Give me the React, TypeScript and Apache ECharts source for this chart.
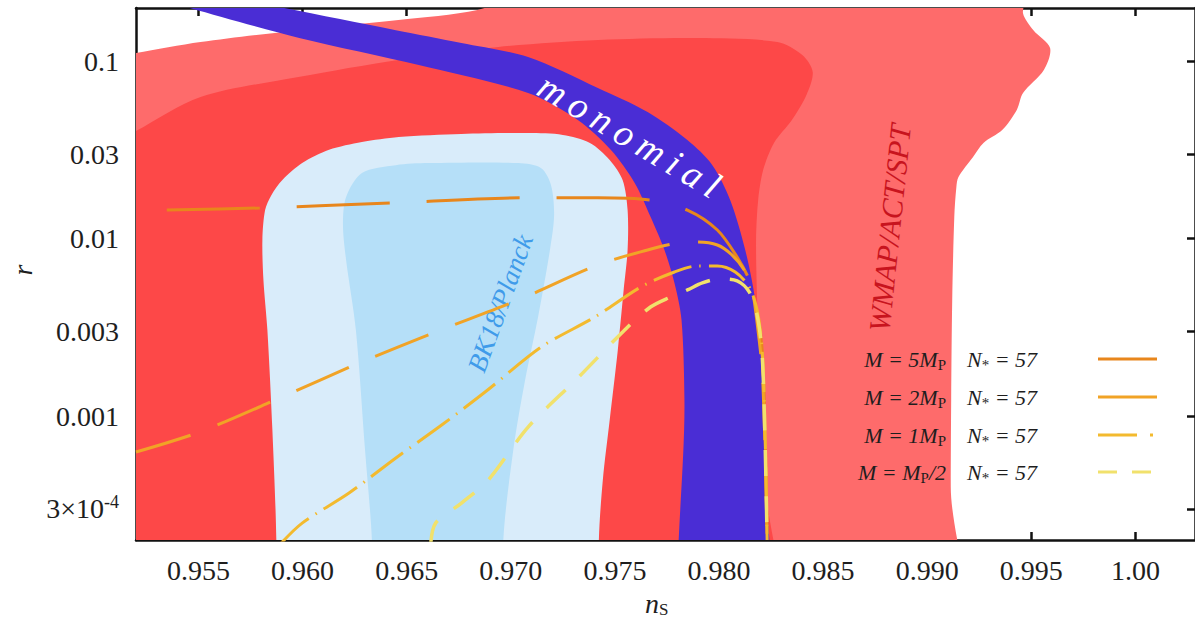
import React, { useEffect, useRef } from "react";
import * as echarts from "echarts";

// ---------- axes ----------
const NS_MIN = 0.952;
const NS_MAX = 1.00286;
const R_MIN = 2e-4;
const R_MAX = 0.2;

const nsTicks = [0.955, 0.96, 0.965, 0.97, 0.975, 0.98, 0.985, 0.99, 0.995, 1.0];
const nsTickLabels = ["0.955", "0.960", "0.965", "0.970", "0.975", "0.980", "0.985", "0.990", "0.995", "1.00"];
const rTicks = [3e-4, 0.001, 0.003, 0.01, 0.03, 0.1];
const rTickLabels = ["3×10{sup|-4}", "0.001", "0.003", "0.01", "0.03", "0.1"];

// ---------- regions: [n_s, r] boundary points ----------
const wmapOuter: [number, number][] = [
  [0.948, 0.09], [0.9503, 0.102], [0.952, 0.1115], [0.9551, 0.1286], [0.9598, 0.15], [0.9646, 0.171],
  [0.9684, 0.195], [0.9713, 0.253], [0.9947, 0.253], [0.9946, 0.187], [0.9951, 0.15],
  [0.9959, 0.119], [0.9956, 0.0894], [0.9946, 0.0663], [0.9943, 0.0532], [0.9936, 0.041],
  [0.9927, 0.0347], [0.9922, 0.0289], [0.9915, 0.0223], [0.9914, 0.0196], [0.9913, 0.0133],
  [0.9912, 0.00451], [0.99115, 0.00123], [0.99113, 0.0004], [0.99112, 0.00003], [0.948, 0.00003],
];
const wmapInner: [number, number][] = [
  [0.948, 0.022], [0.9503, 0.0317], [0.952, 0.0405], [0.9551, 0.063], [0.9598, 0.0816], [0.9646, 0.1018],
  [0.9694, 0.1206], [0.9742, 0.132], [0.979, 0.1354], [0.9828, 0.1286], [0.984, 0.1086],
  [0.9845, 0.0871], [0.9842, 0.0646], [0.9835, 0.0467], [0.98264, 0.0347], [0.98212, 0.0244],
  [0.98188, 0.0165], [0.98178, 0.00983], [0.98183, 0.00451], [0.98197, 0.00123],
  [0.98221, 0.000436], [0.98231, 0.00003], [0.948, 0.00003],
];
const bkOuter: [number, number][] = [
  [0.95878, 0.00003], [0.95874, 0.0002], [0.95855, 0.000834], [0.95831, 0.00306],
  [0.95812, 0.00585], [0.95807, 0.00983], [0.9582, 0.0145], [0.9585, 0.0176], [0.95903, 0.0214],
  [0.95998, 0.0267], [0.96127, 0.0317], [0.96285, 0.0351], [0.96462, 0.0375], [0.96763, 0.039],
  [0.97083, 0.0394], [0.9725, 0.0385], [0.9738, 0.0347], [0.97475, 0.0278], [0.97537, 0.0214],
  [0.97561, 0.0145], [0.97561, 0.00864], [0.97542, 0.00514], [0.97514, 0.00236],
  [0.97475, 0.00095], [0.97442, 0.000436], [0.97423, 0.0002], [0.97415, 0.00003],
];
const bkInner: [number, number][] = [
  [0.9635, 0.00003], [0.96333, 0.0002], [0.963, 0.000643], [0.96256, 0.00306],
  [0.96209, 0.00759], [0.96194, 0.01195], [0.96209, 0.0172], [0.96285, 0.0235],
  [0.96448, 0.026], [0.96605, 0.0267], [0.97036, 0.0267], [0.97146, 0.025], [0.97193, 0.0201],
  [0.97208, 0.0136], [0.97188, 0.00864], [0.97131, 0.00362], [0.97069, 0.0016],
  [0.97012, 0.000643], [0.96964, 0.0002], [0.9695, 0.00003],
];
const monoLower: [number, number][] = [
  [0.95253, 0.2367], [0.95458, 0.2], [0.95984, 0.1354], [0.96558, 0.0954], [0.97083, 0.0663],
  [0.97322, 0.0467], [0.9748, 0.0317], [0.97595, 0.0206], [0.97671, 0.0133], [0.97738, 0.00864],
  [0.97786, 0.00563], [0.9782, 0.00348], [0.97834, 0.00123], [0.97839, 0.00003],
];
const monoUpper: [number, number][] = [
  [0.95602, 0.2367], [0.95912, 0.2], [0.96448, 0.15], [0.96763, 0.127], [0.97083, 0.1058],
  [0.97418, 0.0708], [0.97657, 0.0518], [0.97848, 0.036], [0.97968, 0.026], [0.98054, 0.0165],
  [0.98126, 0.00864], [0.98174, 0.00451], [0.98202, 0.00207], [0.98217, 0.000643],
  [0.98221, 0.00003],
];

// ---------- model curves ----------
const curveM5: [number, number][] = [
  [0.95348, 0.0145], [0.95793, 0.0149], [0.96429, 0.0159], [0.9705, 0.017], [0.97418, 0.017],
  [0.97671, 0.0165], [0.97848, 0.0145], [0.97992, 0.0112], [0.98087, 0.00788], [0.98145, 0.00585],
  [0.98183, 0.00396], [0.98207, 0.00236], [0.98221, 0.000834], [0.98231, 0.0002],
];
const curveM2: [number, number][] = [
  [0.952, 0.000627], [0.95506, 0.000813], [0.95888, 0.00126], [0.96271, 0.00199],
  [0.96639, 0.00298], [0.97036, 0.00451], [0.97418, 0.00711], [0.97657, 0.00864],
  [0.978, 0.00946], [0.97896, 0.00958], [0.97992, 0.00922], [0.98063, 0.00809],
  [0.98121, 0.00666], [0.98159, 0.00514], [0.98183, 0.00335], [0.98207, 0.00182],
  [0.98221, 0.000643], [0.98231, 0.0002],
];
const curveM1: [number, number][] = [
  [0.95888, 0.000187], [0.95998, 0.000249], [0.96223, 0.000368], [0.96448, 0.00058],
  [0.96668, 0.00089], [0.96878, 0.00137], [0.97146, 0.00245], [0.97404, 0.00362],
  [0.97624, 0.00534], [0.97786, 0.00649], [0.97896, 0.00702], [0.97992, 0.00702],
  [0.98078, 0.00649], [0.98145, 0.00534], [0.98183, 0.00396], [0.98207, 0.00236],
  [0.98221, 0.000834], [0.98231, 0.0002],
];
const curveMhalf: [number, number][] = [
  [0.96615, 0.000187], [0.96639, 0.000249], [0.96763, 0.000323], [0.96892, 0.000436],
  [0.97083, 0.000867], [0.97322, 0.00164], [0.97547, 0.00306], [0.97671, 0.00412],
  [0.97767, 0.00469], [0.97848, 0.00514], [0.9792, 0.00563], [0.98001, 0.00593],
  [0.98087, 0.00578], [0.98145, 0.00501], [0.98183, 0.00371], [0.98207, 0.00222],
  [0.98221, 0.000732], [0.98231, 0.0002],
];

// ---------- annotations ----------
const annoTexts = ["m\u2009o\u2009n\u2009o\u2009m\u2009i\u2009a\u2009l", "BK18/Planck", "WMAP/ACT/SPT"];
const annoNs = [0.9757, 0.9695, 0.9882];
const annoR = [0.0382, 0.00433, 0.0115];

// ---------- legend ----------
const legendM = ["{i|M = 5M}{s|P}", "{i|M = 2M}{s|P}", "{i|M = 1M}{s|P}", "{i|M = M}{s|P}{i|/2}"];
const legendN = ["{i|N}{s|*}{i| = 57}", "{i|N}{s|*}{i| = 57}", "{i|N}{s|*}{i| = 57}", "{i|N}{s|*}{i| = 57}"];

const SERIF = "'Liberation Serif', 'DejaVu Serif', serif";
const TEXT = "#1e1e1e";

const curveStyles = [
  { color: "#e8861c", width: 3, dash: [93, 37] },
  { color: "#f1a326", width: 3, dash: [57, 29] },
  { color: "#f3ba2e", width: 3, dash: [40, 8, 1.5, 8] },
  { color: "#f1e16c", width: 3.5, dash: [26, 20] },
];
const legendDash = [[60], [60], [39, 13, 3, 20], [19, 15]];
const annoStyles = [
  { color: "#ffffff", size: 38, rot: -31 },
  { color: "#3f9bea", size: 27, rot: 70 },
  { color: "#c8141e", size: 30, rot: 84 },
];

const L = (p: [number, number]) => [p[0], Math.log10(p[1])];

function region(name: string, pts: [number, number][], color: string) {
  const data = pts.map(L);
  return {
    type: "custom",
    name,
    coordinateSystem: "cartesian2d",
    clip: true,
    silent: true,
    data: [data[0]],
    renderItem: (_p: any, api: any) => ({
      type: "polygon",
      shape: { points: data.map((d) => api.coord(d)), smooth: 0.3 },
      style: { fill: color },
    }),
  };
}

export default function App() {
  const ref = useRef<HTMLDivElement>(null);
  useEffect(() => {
    if (!ref.current) return;
    const chart = echarts.init(ref.current, null, { renderer: "svg" });
    const fmtNs = (v: number) => {
      const i = nsTicks.findIndex((t) => Math.abs(t - v) < 1e-7);
      return i >= 0 ? nsTickLabels[i] : "";
    };
    const fmtR = (v: number) => {
      const i = rTicks.findIndex((t) => Math.abs(Math.log10(t) - v) < 1e-6);
      return i >= 0 ? rTickLabels[i] : "";
    };
    const axisLine = { show: true, lineStyle: { color: "#111", width: 2.5 } };
    const tick = (vals: number[]) => ({
      show: true, inside: true, length: 8, customValues: vals,
      lineStyle: { color: "#111", width: 2.5 },
    });
    const rLog = rTicks.map((t) => Math.log10(t));
    const legendRowsY = [359, 397, 435, 472];
    const richLegend = {
      i: { fontFamily: SERIF, fontStyle: "italic", fontSize: 22, lineHeight: 26, fill: TEXT },
      s: { fontFamily: SERIF, fontSize: 15, lineHeight: 12, verticalAlign: "bottom", fill: TEXT },
    };
    const graphic: any[] = [];
    legendRowsY.forEach((y, k) => {
      graphic.push({
        type: "text", x: 946, y, silent: true, z: 100,
        style: { text: legendM[k], rich: richLegend, align: "right", verticalAlign: "middle" },
      });
      graphic.push({
        type: "text", x: 967, y, silent: true, z: 100,
        style: { text: legendN[k], rich: richLegend, align: "left", verticalAlign: "middle" },
      });
      graphic.push({
        type: "line", silent: true, z: 100,
        shape: { x1: 1098, y1: y, x2: 1157, y2: y },
        style: { stroke: curveStyles[k].color, lineWidth: 3, lineDash: legendDash[k] },
      });
    });
    graphic.push({
      type: "text", x: 645, y: 603, silent: true, z: 100,
      style: {
        text: "{n|n}{s|S}",
        rich: {
          n: { fontFamily: SERIF, fontStyle: "italic", fontSize: 28, lineHeight: 30, fill: TEXT },
          s: { fontFamily: SERIF, fontSize: 17, lineHeight: 14, verticalAlign: "bottom", fill: TEXT },
        },
        align: "left", verticalAlign: "middle",
      },
    });
    graphic.push({
      type: "text", x: 22, y: 270, rotation: Math.PI / 2, silent: true, z: 100,
      style: { text: "r", fontFamily: SERIF, fontStyle: "italic", fontSize: 28, fill: TEXT, align: "center", verticalAlign: "middle" },
    });

    const curves = [curveM5, curveM2, curveM1, curveMhalf];
    const option: any = {
      animation: false,
      backgroundColor: "#ffffff",
      grid: { left: 136, top: 8, right: -5, bottom: 86, containLabel: false },
      xAxis: [
        {
          type: "value", min: NS_MIN, max: NS_MAX, position: "bottom",
          axisLine, axisTick: tick(nsTicks), splitLine: { show: false },
          axisLabel: {
            customValues: nsTicks, formatter: fmtNs, margin: 16,
            fontFamily: SERIF, fontSize: 28, color: TEXT,
          },
        },
        {
          type: "value", min: NS_MIN, max: NS_MAX, position: "top",
          axisLine, axisTick: tick(nsTicks), splitLine: { show: false },
          axisLabel: { show: false },
        },
      ],
      yAxis: [
        {
          type: "value", min: Math.log10(R_MIN), max: Math.log10(R_MAX), position: "left",
          axisLine, axisTick: tick(rLog), splitLine: { show: false },
          axisLabel: {
            customValues: rLog, formatter: fmtR, margin: 17,
            fontFamily: SERIF, fontSize: 28, color: TEXT, lineHeight: 32,
            rich: { sup: { fontFamily: SERIF, fontSize: 18, lineHeight: 14, verticalAlign: "top", color: TEXT } },
          },
        },
        {
          type: "value", min: Math.log10(R_MIN), max: Math.log10(R_MAX), position: "right",
          axisLine, axisTick: tick(rLog), splitLine: { show: false },
          axisLabel: { show: false },
        },
      ],
      series: [
        region("WMAP/ACT/SPT outer", wmapOuter, "#fe6b6b"),
        region("WMAP/ACT/SPT inner", wmapInner, "#fd4848"),
        region("BK18/Planck outer", bkOuter, "#d9ecfa"),
        region("BK18/Planck inner", bkInner, "#b5dff8"),
        region("monomial", [...monoLower, ...monoUpper.slice().reverse()], "#4a2dd5"),
        ...curves.map((c, k) => ({
          type: "line", name: "curve" + k, data: c.map(L), showSymbol: false, symbol: "none",
          smooth: 0.3, clip: true, silent: true,
          lineStyle: { color: curveStyles[k].color, width: curveStyles[k].width, type: curveStyles[k].dash },
        })),
        {
          type: "custom", name: "annotations", coordinateSystem: "cartesian2d", silent: true,
          data: annoTexts.map((_, k) => [annoNs[k], Math.log10(annoR[k])]),
          renderItem: (params: any, api: any) => {
            const k = params.dataIndex;
            const p = api.coord([api.value(0), api.value(1)]);
            return {
              type: "text", x: p[0], y: p[1], rotation: (annoStyles[k].rot * Math.PI) / 180,
              style: {
                text: annoTexts[k], fill: annoStyles[k].color, fontFamily: SERIF, fontStyle: "italic",
                fontSize: annoStyles[k].size, align: "center", verticalAlign: "middle",
              },
            };
          },
        },
      ],
      graphic,
    };
    chart.setOption(option);
    return () => chart.dispose();
  }, []);
  return (
    <div
      ref={ref}
      style={{ position: "fixed", left: 0, top: 0, width: 1195, height: 626, background: "#fff" }}
    />
  );
}
